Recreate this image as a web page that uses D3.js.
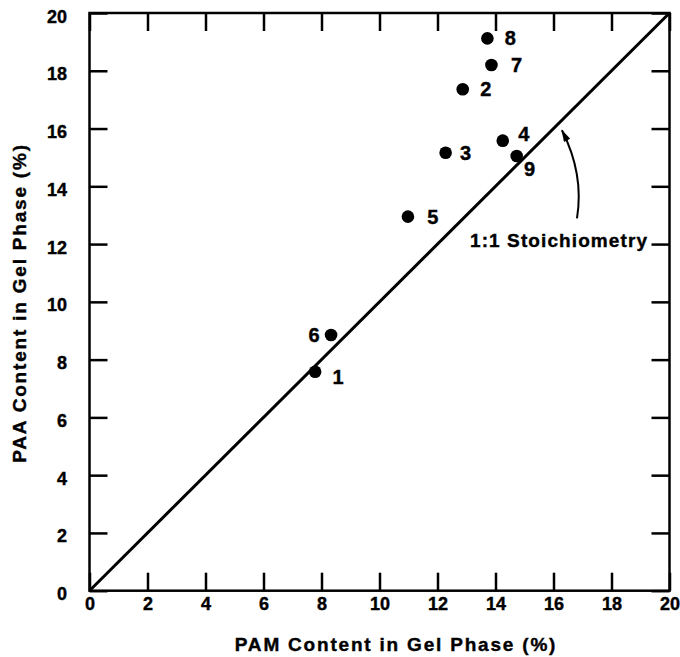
<!DOCTYPE html>
<html lang="en">
<head>
    <meta charset="UTF-8">
    <title>PAA vs PAM Content in Gel Phase</title>
    <script src="https://d3js.org/d3.v7.min.js"></script>
    <style>
        body {
            margin: 0;
            background: #fff;
        }

        svg text {
            font-family: "Liberation Sans", Arial, Helvetica, sans-serif;
            font-weight: bold;
            fill: #000;
            stroke: #000;
            stroke-width: 0.4px;
        }
    </style>
</head>
<body>

<div id="chart"></div>

<script>
    // Samples: PAM and PAA content (%) in the gel phase
    const sampleIds = ['1', '2', '3', '4', '5', '6', '7', '8', '9'];
    const pamContent = [7.78, 12.87, 12.28, 14.25, 10.98, 8.33, 13.86, 13.72, 14.73];
    const paaContent = [7.58, 17.36, 15.16, 15.58, 12.95, 8.85, 18.20, 19.12, 15.05];

    const tickValues = [0, 2, 4, 6, 8, 10, 12, 14, 16, 18, 20];

    const data = sampleIds.map((id, i) => ({ id: id, pam: pamContent[i], paa: paaContent[i] }));

    // Where each sample number sits relative to its dot (px)
    const labelOffset = {
        '1': [23, 5], '2': [23, 0], '3': [20, 0], '4': [21, -7], '5': [25, 0],
        '6': [-17, 0], '7': [25, 0], '8': [23, -1], '9': [13, 13]
    };

    const width = 680;
    const height = 657;
    const margin = { top: 13, right: 10.5, bottom: 66.3, left: 89.5 };
    const innerW = width - margin.left - margin.right;
    const innerH = height - margin.top - margin.bottom;

    const svg = d3.select('#chart').append('svg')
        .attr('width', width)
        .attr('height', height);

    const g = svg.append('g')
        .attr('transform', `translate(${margin.left},${margin.top})`);

    const x = d3.scaleLinear().domain([0, 20]).range([0, innerW]);
    const y = d3.scaleLinear().domain([0, 20]).range([innerH, 0]);

    // Axes: ticks point inward on all four sides
    function styleAxis(sel) {
        sel.select('.domain').remove();
        sel.selectAll('.tick line').attr('stroke', '#000').attr('stroke-width', 2.5);
        sel.selectAll('.tick text').style('font-size', '18px');
    }

    g.append('g')
        .attr('transform', `translate(0,${innerH})`)
        .call(d3.axisBottom(x).tickValues(tickValues).tickSize(-18).tickSizeOuter(0).tickPadding(7))
        .call(styleAxis);

    g.append('g')
        .call(d3.axisLeft(y).tickValues(tickValues).tickSize(-18).tickSizeOuter(0).tickPadding(22.5))
        .call(styleAxis)
        .selectAll('.tick text').attr('dy', '0.5em');

    g.append('g')
        .call(d3.axisTop(x).tickValues(tickValues).tickSize(-18).tickSizeOuter(0).tickFormat(''))
        .call(styleAxis);

    g.append('g')
        .attr('transform', `translate(${innerW},0)`)
        .call(d3.axisRight(y).tickValues(tickValues).tickSize(-18).tickSizeOuter(0).tickFormat(''))
        .call(styleAxis);

    // Frame
    g.append('rect')
        .attr('width', innerW)
        .attr('height', innerH)
        .attr('fill', 'none')
        .attr('stroke', '#000')
        .attr('stroke-width', 2.5);

    // 1:1 line
    g.append('line')
        .attr('x1', x(0)).attr('y1', y(0))
        .attr('x2', x(20)).attr('y2', y(20))
        .attr('stroke', '#000')
        .attr('stroke-width', 3);

    // Points and their numbers
    g.selectAll('.dot')
        .data(data)
        .enter().append('circle')
        .attr('class', 'dot')
        .attr('cx', d => x(d.pam))
        .attr('cy', d => y(d.paa))
        .attr('r', 6.3)
        .attr('fill', '#000');

    g.selectAll('.dot-label')
        .data(data)
        .enter().append('text')
        .attr('class', 'dot-label')
        .attr('x', d => x(d.pam) + labelOffset[d.id][0])
        .attr('y', d => y(d.paa) + labelOffset[d.id][1])
        .attr('dy', '0.36em')
        .attr('text-anchor', 'middle')
        .style('font-size', '20px')
        .text(d => d.id);

    // Annotation with curved arrow pointing at the line
    svg.append('defs').append('marker')
        .attr('id', 'arrowhead')
        .attr('viewBox', '0 0 14 8')
        .attr('refX', 13)
        .attr('refY', 4)
        .attr('markerWidth', 14)
        .attr('markerHeight', 7)
        .attr('markerUnits', 'userSpaceOnUse')
        .attr('orient', 'auto')
        .append('path')
        .attr('d', 'M0,0 L14,4 L0,8 Z')
        .attr('fill', '#000');

    const arrow = d3.path();
    arrow.moveTo(x(16.81), y(12.89));
    arrow.quadraticCurveTo(x(17.06), y(14.42), x(16.29), y(15.94));
    g.append('path')
        .attr('d', arrow.toString())
        .attr('fill', 'none')
        .attr('stroke', '#000')
        .attr('stroke-width', 2)
        .attr('marker-end', 'url(#arrowhead)');

    g.append('text')
        .attr('x', x(13.12))
        .attr('y', y(11.9))
        .style('font-size', '19px')
        .style('letter-spacing', '1.1px')
        .text('1:1 Stoichiometry');

    // Axis titles
    svg.append('text')
        .attr('x', 396)
        .attr('y', 651)
        .attr('text-anchor', 'middle')
        .style('font-size', '19px')
        .style('letter-spacing', '1.8px')
        .text('PAM Content in Gel Phase (%)');

    svg.append('text')
        .attr('transform', 'translate(26,303) rotate(-90)')
        .attr('text-anchor', 'middle')
        .style('font-size', '19px')
        .style('letter-spacing', '1.8px')
        .text('PAA Content in Gel Phase (%)');
</script>

</body>
</html>
